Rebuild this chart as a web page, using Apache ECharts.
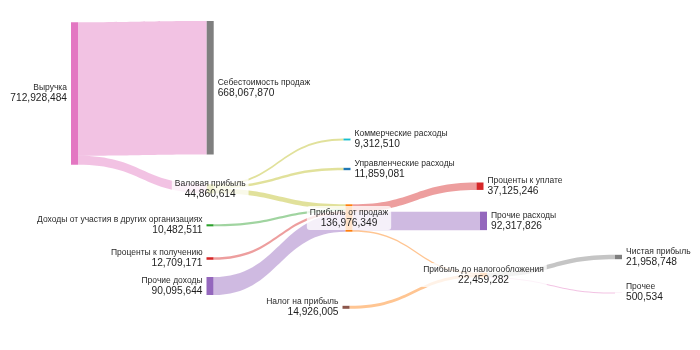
<!DOCTYPE html>
<html><head><meta charset="utf-8">
<script src="https://cdn.jsdelivr.net/npm/echarts@6/dist/echarts.min.js"></script>
<style>html,body{margin:0;padding:0;background:#fff}#c{width:700px;height:350px}</style>
</head><body><div id="c"></div>
<script>
// ---- data ----
const nodeNames = [
  'Себестоимость продаж', 'Выручка', 'Коммерческие расходы', 'Управленческие расходы',
  'Валовая прибыль', 'Проценты к уплате', 'Прибыль от продаж', 'Прочие расходы',
  'Доходы от участия в других организациях', 'Чистая прибыль', 'Проценты к получению',
  'Прибыль до налогообложения', 'Прочие доходы', 'Прочее', 'Налог на прибыль'
];
const nodeValues = [
  668067870, 712928484, 9312510, 11859081,
  44860614, 37125246, 136976349, 92317826,
  10482511, 21958748, 12709171,
  22459282, 90095644, 500534, 14926005
];
const linkSources = [
  'Выручка', 'Выручка',
  'Валовая прибыль', 'Валовая прибыль', 'Валовая прибыль',
  'Доходы от участия в других организациях', 'Проценты к получению', 'Прочие доходы',
  'Прибыль от продаж', 'Прибыль от продаж', 'Прибыль от продаж',
  'Налог на прибыль',
  'Прибыль до налогообложения', 'Прибыль до налогообложения'
];
const linkTargets = [
  'Себестоимость продаж', 'Валовая прибыль',
  'Коммерческие расходы', 'Управленческие расходы', 'Прибыль от продаж',
  'Прибыль от продаж', 'Прибыль от продаж', 'Прибыль от продаж',
  'Проценты к уплате', 'Прочие расходы', 'Прибыль до налогообложения',
  'Прибыль до налогообложения',
  'Чистая прибыль', 'Прочее'
];
const linkValues = [
  668067870, 44860614,
  9312510, 11859081, 23689023,
  10482511, 12709171, 90095644,
  37125246, 92317826, 7533277,
  14926005,
  21958748, 500534
];

// ---- layout & style (px) ----
const KY = 2.0e-7;          // px per unit of value
const NODE_W = 7;
const nodeLayout = {
  'Выручка':                                  {x: 71,    cy: 93.5,  side: 'left',   color: '#e377c2'},
  'Себестоимость продаж':                     {x: 206.7, cy: 87.8,  side: 'right',  color: '#7f7f7f'},
  'Валовая прибыль':                          {x: 206.7, cy: 188.8, side: 'inside', color: '#bcbd22'},
  'Коммерческие расходы':                     {x: 343.5, cy: 139.5, side: 'right',  color: '#17becf'},
  'Управленческие расходы':                   {x: 343.5, cy: 169,   side: 'right',  color: '#1f77b4'},
  'Прибыль от продаж':                        {x: 345.5, cy: 218,   side: 'inside', color: '#ff7f0e'},
  'Доходы от участия в других организациях':  {x: 206.5, cy: 225.3, side: 'left',   color: '#2ca02c'},
  'Проценты к получению':                     {x: 206.5, cy: 258.5, side: 'left',   color: '#d62728'},
  'Прочие доходы':                            {x: 206.5, cy: 286,   side: 'left',   color: '#9467bd'},
  'Проценты к уплате':                        {x: 476.5, cy: 186.2, side: 'right',  color: '#d62728'},
  'Прочие расходы':                           {x: 480,   cy: 220.9, side: 'right',  color: '#9467bd'},
  'Налог на прибыль':                         {x: 342.5, cy: 307.3, side: 'left',   color: '#8c564b'},
  'Прибыль до налогообложения':               {x: 480,   cy: 275,   side: 'inside', color: '#ff7f0e'},
  'Чистая прибыль':                           {x: 615,   cy: 257,   side: 'right',  color: '#7f7f7f'},
  'Прочее':                                   {x: 615,   cy: 292.5, side: 'right',  color: '#e377c2'}
};
const linkColors = [
  '#e377c2', '#e377c2',
  '#bcbd22', '#bcbd22', '#bcbd22',
  '#2ca02c', '#d62728', '#9467bd',
  '#d62728', '#9467bd', '#ff7f0e',
  '#ff7f0e',
  '#7f7f7f', '#e377c2'
];

const CW = 700;
const totalValue = nodeValues.reduce((a, b) => a + b, 0);
const LH = KY * totalValue;   // layout height so that single-column scale equals KY

const fmt = v => v.toLocaleString('en-US');
const FONT = 'Liberation Sans, Arial, sans-serif';
const rich = {
  n: {fontSize: 8.5, lineHeight: 10, color: '#2a2a2a', fontFamily: FONT},
  v: {fontSize: 10.2, lineHeight: 11, color: '#1e1e1e', fontFamily: FONT}
};

const nodes = nodeNames.map((name, i) => {
  const L = nodeLayout[name];
  const h = nodeValues[i] * KY;
  const label = {
    show: true,
    position: L.side,
    distance: 4,
    formatter: '{n|' + name + '}\n{v|' + fmt(nodeValues[i]) + '}',
    rich: rich
  };
  if (L.side === 'inside') {
    label.backgroundColor = 'rgba(255,255,255,0.78)';
    label.padding = [2, 3, 1, 3];
    label.borderRadius = 3;
  }
  return {
    name: name,
    value: nodeValues[i],
    depth: 0,
    localX: L.x / CW,
    localY: (L.cy - h / 2) / LH,
    itemStyle: {color: L.color, opacity: 1, borderWidth: 0},
    label: label
  };
});

const links = linkValues.map((v, i) => ({
  source: linkSources[i],
  target: linkTargets[i],
  value: v,
  lineStyle: {color: linkColors[i], opacity: 0.45, curveness: 0.5}
}));

const chart = echarts.init(document.getElementById('c'), null, {renderer: 'canvas'});
chart.setOption({
  animation: false,
  backgroundColor: '#ffffff',
  series: [{
    type: 'sankey',
    left: 0, top: 0, width: CW, height: LH,
    nodeWidth: NODE_W,
    nodeGap: 0,
    nodeAlign: 'left',
    layoutIterations: 0,
    draggable: false,
    emphasis: {disabled: true},
    data: nodes,
    links: links
  }]
});
</script>
</body></html>
